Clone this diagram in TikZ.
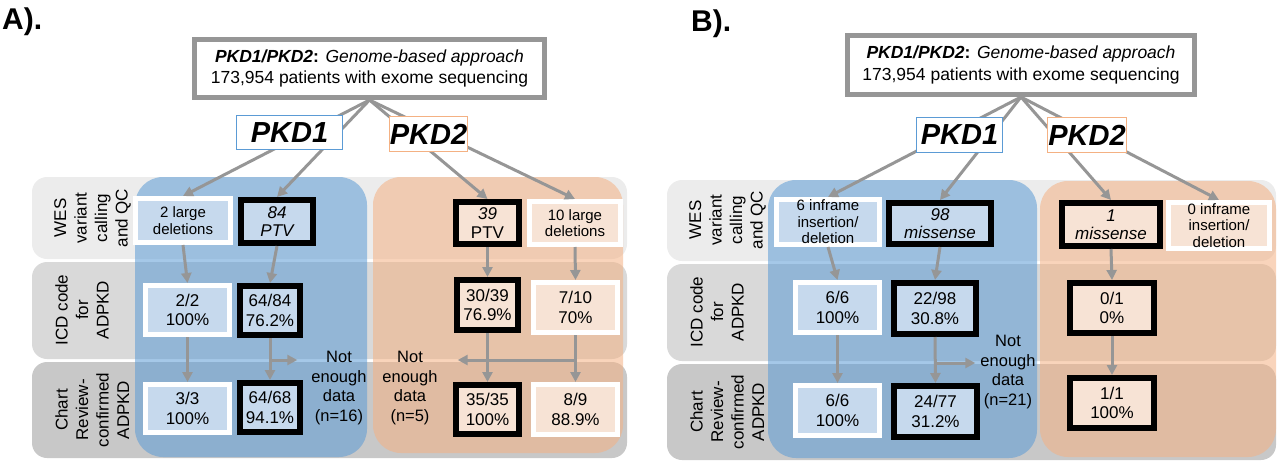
\documentclass[tikz,border=0pt]{standalone}
\usepackage{fontspec}
\setmainfont{Liberation Sans}
\usetikzlibrary{arrows.meta}

\definecolor{bandone}{RGB}{236,236,236}
\definecolor{bandtwo}{RGB}{217,217,217}
\definecolor{bandthree}{RGB}{200,200,200}
\definecolor{pkdblue}{RGB}{91,155,213}
\definecolor{pkdorange}{RGB}{244,177,131}
\definecolor{boxblue}{RGB}{198,217,237}
\definecolor{boxorange}{RGB}{247,227,213}
\definecolor{arrowgray}{RGB}{150,150,150}

\begin{document}
\begin{tikzpicture}[x=1pt,y=-1pt,
	arr/.style={draw=arrowgray, line width=3pt, -{Triangle[length=10pt,width=10pt]}},
	bx/.style={align=center, inner sep=0pt, font=\fontsize{17}{19.5}\selectfont},
	wb/.style={bx, draw=white, line width=5pt},
	kb/.style={bx, draw=black, line width=6pt},
	rowlabel/.style={rotate=90, anchor=north, align=center, inner sep=0pt, font=\fontsize{17}{20.5}\selectfont},
	nolabel/.style={align=center, inner sep=0pt, font=\fontsize{16.5}{19.5}\selectfont},
	topbox/.style={draw=arrowgray, line width=5pt, fill=white, align=center, inner sep=0pt, font=\fontsize{17.5}{21.5}\selectfont},
	genebox/.style={fill=white, line width=1.2pt, inner sep=0pt, font=\fontsize{29}{30}\selectfont\bfseries\itshape}]
		\useasboundingbox (0,0) rectangle (1280,464);

		% panel A
		\fill [bandone, rounded corners=15pt] (32,177) rectangle (627,259);
		\fill [bandtwo, rounded corners=15pt] (32,262) rectangle (627,359);
		\fill [bandthree, rounded corners=15pt] (32,362) rectangle (627,458);
		\fill [pkdblue, fill opacity=.55, rounded corners=28pt] (135,177) rectangle (367,457);
		\fill [pkdorange, fill opacity=.55, rounded corners=28pt] (373,177) rectangle (623,453);
		\node [anchor=base west, inner sep=0pt, font=\fontsize{30}{30}\selectfont\bfseries] (labA) at (2,29) {A).};
		\node [rowlabel] (rowA1) at (54,218) {WES\\variant\\calling\\and QC};
		\node [rowlabel] (rowA2) at (55,310) {ICD code\\for\\ADPKD};
		\node [rowlabel] (rowA3) at (55,410) {Chart\\Review-\\confirmed\\ADPKD};

		\node [topbox, minimum width=350pt, minimum height=58pt] (topA) at (369.5,68.5) {\textbf{\textit{PKD1/PKD2}:} \textit{Genome-based approach}\\173,954 patients with exome sequencing};
		\node [wb, fill=boxblue, minimum width=95pt, minimum height=44pt, font=\fontsize{15}{16.5}\selectfont] (wesA1) at (183,220.5) {2 large\\deletions};
		\node [kb, fill=boxblue, minimum width=72pt, minimum height=43pt, font=\fontsize{17}{18.5}\selectfont\itshape] (wesA2) at (277,221.5) {84\\PTV};
		\node [kb, fill=boxorange, minimum width=63pt, minimum height=42pt, font=\fontsize{17}{19}\selectfont] (wesA3) at (487.5,223) {\textit{39}\\PTV};
		\node [wb, fill=boxorange, minimum width=91pt, minimum height=43pt, font=\fontsize{15}{16.5}\selectfont] (wesA4) at (575,223) {10 large\\deletions};
		\node [wb, fill=boxblue, minimum width=84pt, minimum height=49pt] (icdA1) at (187.5,310) {2/2\\100\%};
		\node [kb, fill=boxblue, minimum width=60pt, minimum height=49pt] (icdA2) at (270,310.5) {64/84\\76.2\%};
		\node [kb, fill=boxorange, minimum width=61pt, minimum height=50pt] (icdA3) at (487.5,305) {30/39\\76.9\%};
		\node [wb, fill=boxorange, minimum width=84pt, minimum height=50pt] (icdA4) at (575.5,307.5) {7/10\\70\%};
		\node [wb, fill=boxblue, minimum width=84pt, minimum height=48pt] (chartA1) at (187.5,408.5) {3/3\\100\%};
		\node [kb, fill=boxblue, minimum width=60pt, minimum height=49pt] (chartA2) at (270,407.5) {64/68\\94.1\%};
		\node [kb, fill=boxorange, minimum width=63pt, minimum height=49pt] (chartA3) at (487.5,409.5) {35/35\\100\%};
		\node [wb, fill=boxorange, minimum width=84pt, minimum height=50pt] (chartA4) at (575.5,409.5) {8/9\\88.9\%};
		\node [nolabel] (nedA1) at (339,388) {Not\\enough\\data\\(n=16)};
		\node [nolabel] (nedA2) at (410,388) {Not\\enough\\data\\(n=5)};

		\draw [arr] (topA.south) -- (wesA1.north);
		\draw [arr] (topA.south) -- (wesA2.north);
		\draw [arr] (topA.south) -- (wesA3.north);
		\draw [arr] (topA.south) -- (wesA4.north);
		\draw [arr] (wesA1.south) -- (icdA1.north);
		\draw [arr] (wesA2.south) -- (icdA2.north);
		\draw [arr] (wesA3.south) -- (icdA3.north);
		\draw [arr] (wesA4.south) -- (icdA4.north);
		\draw [arr] (icdA1.south) -- (chartA1.north);
		\draw [arr] (icdA2.south) -- (chartA2.north);
		\draw [arr] (icdA3.south) -- (chartA3.north);
		\draw [arr] (icdA4.south) -- (chartA4.north);
		\coordinate (splitA1) at (icdA2.south |- 0,360);
		\coordinate (splitA2) at (icdA4.south |- 0,360);
		\draw [arr] (splitA1) -- ([xshift=-14pt]nedA1.west |- splitA1);
		\draw [arr] (splitA2) -- ([xshift=20pt]nedA2.east |- splitA2);

		\node [genebox, draw=pkdblue, minimum width=106pt, minimum height=34pt] (pkdA1) at (289.5,132.5) {PKD1};
		\node [genebox, draw=pkdorange, minimum width=78pt, minimum height=35pt] (pkdA2) at (428.5,134) {PKD2};

		% panel B
		\fill [bandone, rounded corners=15pt] (667,180) rectangle (1276,261);
		\fill [bandtwo, rounded corners=15pt] (667,264) rectangle (1276,361);
		\fill [bandthree, rounded corners=15pt] (667,364) rectangle (1276,460);
		\fill [pkdblue, fill opacity=.55, rounded corners=28pt] (768,180) rectangle (1037,458);
		\fill [pkdorange, fill opacity=.55, rounded corners=28pt] (1040,181) rectangle (1276,457);
		\node [anchor=base west, inner sep=0pt, font=\fontsize{30}{30}\selectfont\bfseries] (labB) at (691,31) {B).};
		\node [rowlabel] (rowB1) at (689,220) {WES\\variant\\calling\\and QC};
		\node [rowlabel] (rowB2) at (690,312) {ICD code\\for\\ADPKD};
		\node [rowlabel] (rowB3) at (690,412) {Chart\\Review-\\confirmed\\ADPKD};

		\node [topbox, minimum width=347pt, minimum height=59pt] (topB) at (1021,65) {\textbf{\textit{PKD1/PKD2}:} \textit{Genome-based approach}\\173,954 patients with exome sequencing};
		\node [wb, fill=boxblue, minimum width=103pt, minimum height=45pt, font=\fontsize{15}{16.5}\selectfont] (wesB1) at (828,222) {6 inframe\\insertion/\\deletion};
		\node [kb, fill=boxblue, minimum width=102pt, minimum height=41pt, font=\fontsize{17}{18.5}\selectfont\itshape] (wesB2) at (940,223.5) {98\\missense};
		\node [kb, fill=boxorange, minimum width=98pt, minimum height=43pt, font=\fontsize{17}{18.5}\selectfont\itshape] (wesB3) at (1111,224.5) {1\\missense};
		\node [wb, fill=boxorange, minimum width=101pt, minimum height=46pt, font=\fontsize{15}{16.5}\selectfont] (wesB4) at (1219,225.5) {0 inframe\\insertion/\\deletion};
		\node [wb, fill=boxblue, minimum width=84pt, minimum height=50pt] (icdB1) at (837.5,307.5) {6/6\\100\%};
		\node [kb, fill=boxblue, minimum width=82pt, minimum height=51pt] (icdB2) at (935,308.5) {22/98\\30.8\%};
		\node [kb, fill=boxorange, minimum width=84pt, minimum height=50pt] (icdB3) at (1112,308) {0/1\\0\%};
		\node [wb, fill=boxblue, minimum width=84pt, minimum height=50pt] (chartB1) at (837.5,410.5) {6/6\\100\%};
		\node [kb, fill=boxblue, minimum width=83pt, minimum height=51pt] (chartB2) at (935.5,411.5) {24/77\\31.2\%};
		\node [kb, fill=boxorange, minimum width=84pt, minimum height=50pt] (chartB3) at (1112,403) {1/1\\100\%};
		\node [nolabel] (nedB) at (1008,372) {Not\\enough\\data\\(n=21)};

		\draw [arr] (topB.south) -- (wesB1.north);
		\draw [arr] (topB.south) -- (wesB2.north);
		\draw [arr] (topB.south) -- (wesB3.north);
		\draw [arr] (topB.south) -- (wesB4.north);
		\draw [arr] (wesB1.south) -- (icdB1.north);
		\draw [arr] (wesB2.south) -- (icdB2.north);
		\draw [arr] (wesB3.south) -- (icdB3.north);
		\draw [arr] (icdB1.south) -- (chartB1.north);
		\draw [arr] (icdB2.south) -- (chartB2.north);
		\draw [arr] (icdB3.south) -- (chartB3.north);
		\coordinate (splitB) at (icdB2.south |- 0,363);
		\draw [arr] (splitB) -- ([xshift=-5pt]nedB.west |- splitB);

		\node [genebox, draw=pkdblue, minimum width=86pt, minimum height=35pt] (pkdB1) at (959.5,135) {PKD1};
		\node [genebox, draw=pkdorange, minimum width=79pt, minimum height=35pt] (pkdB2) at (1087,135) {PKD2};
\end{tikzpicture}
\end{document}
